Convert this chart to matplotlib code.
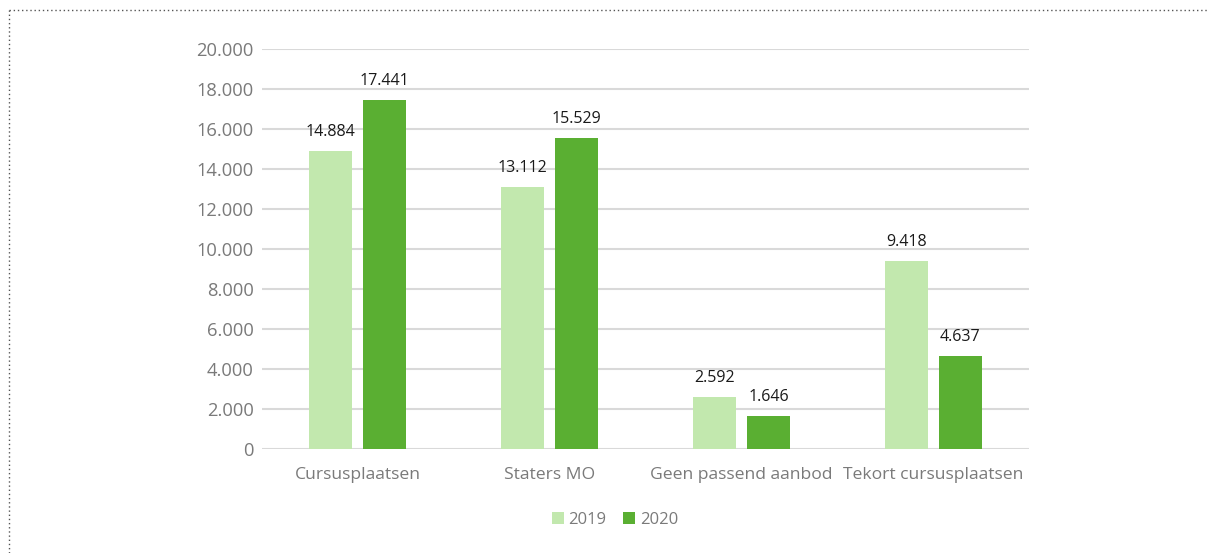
import numpy as np
import matplotlib.pyplot as plt
from matplotlib.lines import Line2D

categories = ["Cursusplaatsen", "Staters MO", "Geen passend aanbod", "Tekort cursusplaatsen"]
series_names = ["2019", "2020"]
values_2019 = [14884, 13112, 2592, 9418]
values_2020 = [17441, 15529, 1646, 4637]
yticks = [0, 2000, 4000, 6000, 8000, 10000, 12000, 14000, 16000, 18000, 20000]

light = "#c2e8ae"
dark = "#5aaf32"
grey = "#7a7a7a"

plt.rcParams['font.family'] = ['Open Sans', 'DejaVu Sans']


def fmt(v):
    return f"{v:,}".replace(",", ".")


fig = plt.figure(figsize=(12.08, 5.53), dpi=100)
ax = fig.add_axes([262 / 1208, 1 - 449 / 553, (1029 - 262) / 1208, 400 / 553])

x = np.arange(len(categories))
w = 0.225
off = 0.141
b1 = ax.bar(x - off, values_2019, w, color=light, label=series_names[0], zorder=3)
b2 = ax.bar(x + off, values_2020, w, color=dark, label=series_names[1], zorder=3)

for bars, vals in [(b1, values_2019), (b2, values_2020)]:
    for r, v in zip(bars, vals):
        ax.annotate(fmt(v), (r.get_x() + r.get_width() / 2, v), xytext=(0, 8),
                    textcoords="offset points", ha="center", va="bottom",
                    fontsize=11.5, color="#1a1a1a")

ax.set_xlim(-0.5, len(categories) - 0.5)
ax.set_ylim(0, 20000)
ax.set_yticks(yticks)
ax.set_yticklabels([fmt(t) for t in yticks])
ax.set_xticks(x)
ax.set_xticklabels(categories)
ax.grid(axis="y", color="#d9d9d9", linewidth=1.5, zorder=0)
for s in ax.spines.values():
    s.set_visible(False)
ax.tick_params(axis="both", length=0, colors=grey)
ax.tick_params(axis="x", pad=13, labelsize=12.6)
ax.tick_params(axis="y", pad=6, labelsize=13.2)

leg = fig.legend(loc="center", bbox_to_anchor=(615 / 1208, 1 - 520 / 553), ncol=2,
                 frameon=False, fontsize=12, handlelength=0.7, handleheight=0.7,
                 handletextpad=0.3, columnspacing=1.0)
for t in leg.get_texts():
    t.set_color(grey)

# dotted frame at top and left
fig.add_artist(Line2D([9 / 1208, 1], [1 - 10 / 553, 1 - 10 / 553], transform=fig.transFigure,
                      color="#555555", linestyle=(0, (1, 2)), linewidth=1))
fig.add_artist(Line2D([9 / 1208, 9 / 1208], [0, 1 - 10 / 553], transform=fig.transFigure,
                      color="#555555", linestyle=(0, (1, 2)), linewidth=1))

fig.savefig("out.png", dpi=100)
